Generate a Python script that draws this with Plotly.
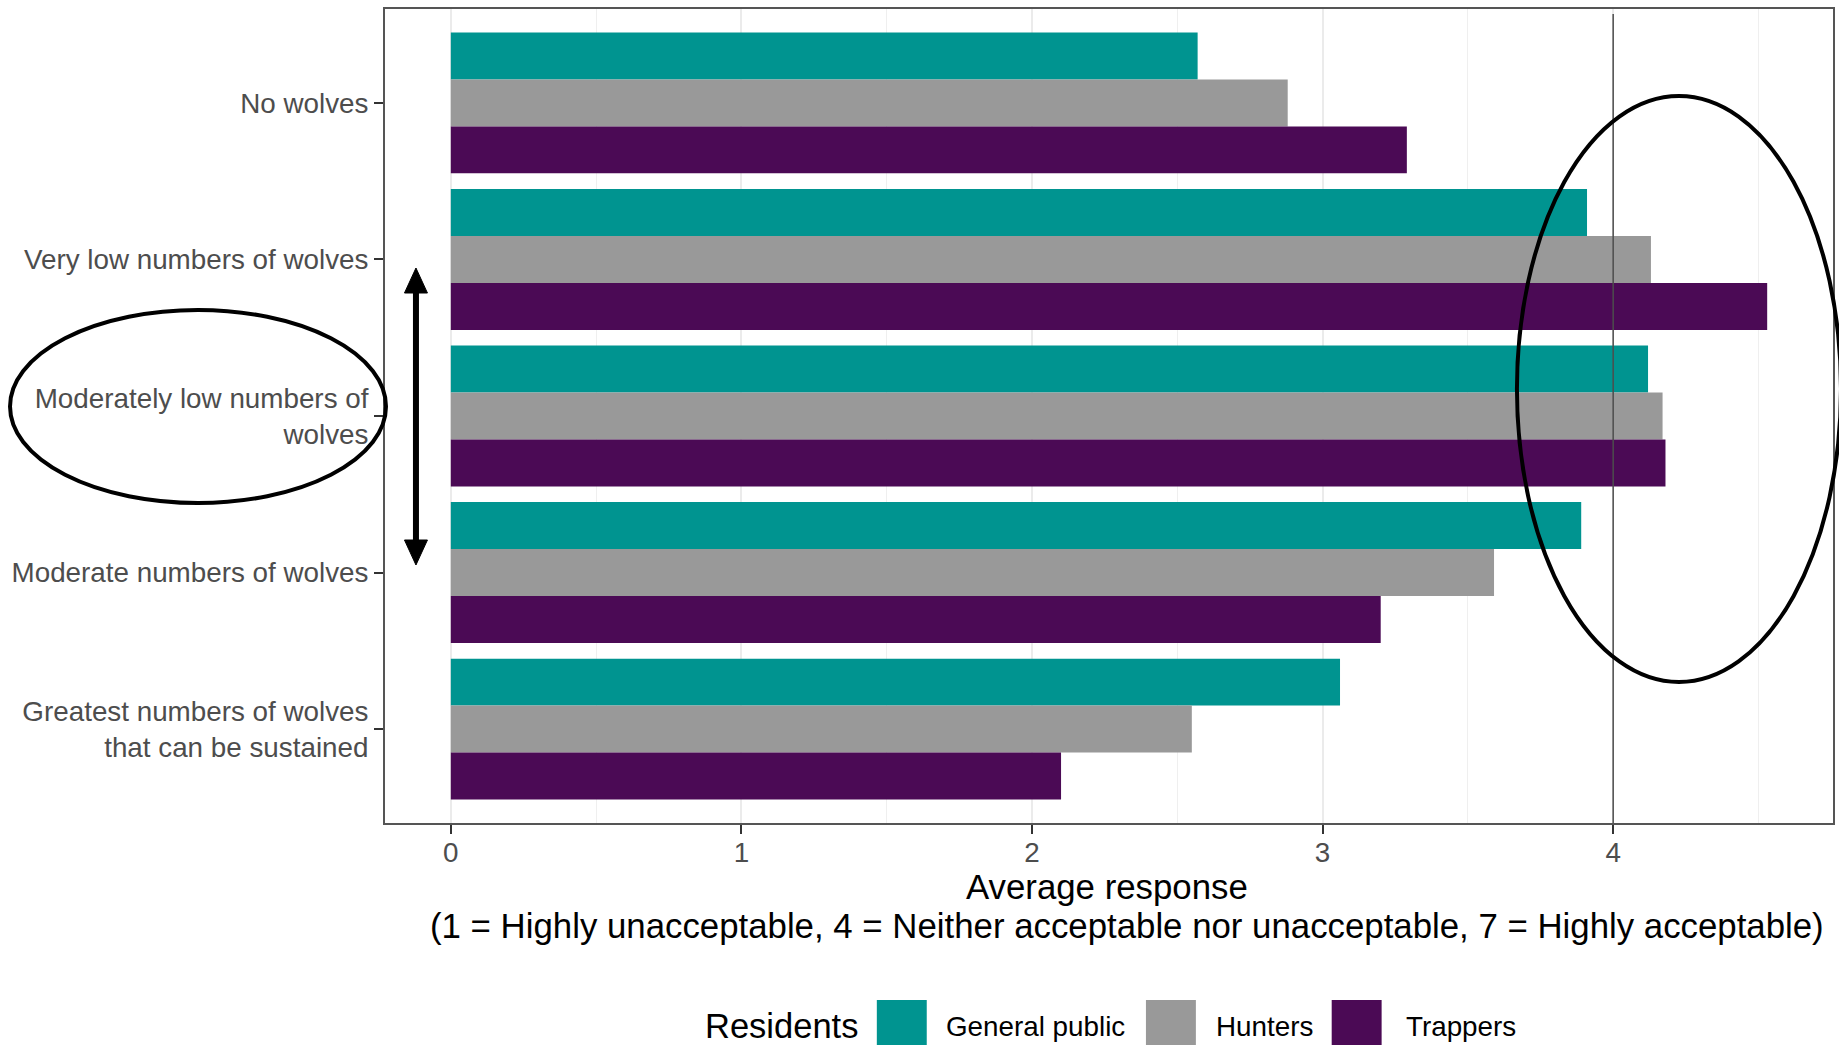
import plotly.graph_objects as go

# ---------------- data ----------------
categories = [
    "No wolves",
    "Very low numbers of wolves",
    "Moderately low numbers of<br>wolves",
    "Moderate numbers of wolves",
    "Greatest numbers of wolves<br>that can be sustained",
]
groups = ["General public", "Hunters", "Trappers"]
general_public = [2.57, 3.91, 4.12, 3.89, 3.06]
hunters = [2.88, 4.13, 4.17, 3.59, 2.55]
trappers = [3.29, 4.53, 4.18, 3.20, 2.10]
x_ticks = [0, 1, 2, 3, 4]
reference_value = 4

colors = ["#009490", "#999999", "#4B0A55"]
FONT = "Liberation Sans, Arial, sans-serif"

# ---------------- layout geometry (pixels) ----------------
W, H = 1839, 1045
PL, PR, PT, PB = 385, 1835, 9, 823


def px(X):
    return (X - PL) / (PR - PL)


def py(Y):
    return (PB - Y) / (PB - PT)


fig = go.Figure()
for name, vals, col in zip(groups, [general_public, hunters, trappers], colors):
    fig.add_trace(go.Bar(
        y=categories, x=vals, name=name, orientation="h",
        marker=dict(color=col, line=dict(width=0)),
        showlegend=False,
    ))

shapes = []
annotations = []

# reference vertical line at x = 4
shapes.append(dict(type="line", xref="x", yref="paper",
                   x0=reference_value, x1=reference_value, y0=0, y1=py(14),
                   line=dict(color="#4D4D4D", width=1.5), layer="above"))

# ellipse around the y label
shapes.append(dict(type="circle", xref="paper", yref="paper",
                   x0=px(9.5), x1=px(386), y0=py(310), y1=py(503),
                   line=dict(color="black", width=4), layer="above"))
# big ellipse on the right
shapes.append(dict(type="circle", xref="paper", yref="paper",
                   x0=px(1518.5), x1=px(1843), y0=py(96), y1=py(682),
                   line=dict(color="black", width=4), layer="above"))

# double-headed arrow
ax_c = 416
shapes.append(dict(type="line", xref="paper", yref="paper",
                   x0=px(ax_c), x1=px(ax_c), y0=py(288), y1=py(546),
                   line=dict(color="black", width=6), layer="above"))
for tip, base in [(268, 293), (565, 540)]:
    path = "M {} {} L {} {} L {} {} Z".format(
        px(ax_c), py(tip), px(ax_c - 11.5), py(base), px(ax_c + 11.5), py(base))
    shapes.append(dict(type="path", xref="paper", yref="paper", path=path,
                       fillcolor="black", line=dict(color="black", width=1),
                       layer="above"))

# x-axis title (two lines)
annotations.append(dict(text="Average response", xref="paper", yref="paper",
                        x=px(1108), y=py(886), xanchor="center", yanchor="middle",
                        showarrow=False, font=dict(family=FONT, size=34.8, color="black")))
annotations.append(dict(text="(1 = Highly unacceptable, 4 = Neither acceptable nor unacceptable, 7 = Highly acceptable)",
                        xref="paper", yref="paper",
                        x=px(1128.5), y=py(925), xanchor="center", yanchor="middle",
                        showarrow=False, font=dict(family=FONT, size=34.8, color="black")))

# manual legend (large keys)
leg_y = 1026
annotations.append(dict(text="Residents", xref="paper", yref="paper",
                        x=px(703), y=py(leg_y), xanchor="left", yanchor="middle",
                        showarrow=False, font=dict(family=FONT, size=34.5, color="black")))
key_x = [877.5, 1147, 1333]
label_x = [945, 1215, 1405]
for name, col, kx, lx in zip(groups, colors, key_x, label_x):
    shapes.append(dict(type="rect", xref="paper", yref="paper",
                       x0=px(kx), x1=px(kx + 50), y0=py(1000), y1=py(1050),
                       fillcolor=col, line=dict(width=0), layer="above"))
    annotations.append(dict(text=name, xref="paper", yref="paper",
                            x=px(lx), y=py(leg_y), xanchor="left", yanchor="middle",
                            showarrow=False, font=dict(family=FONT, size=27.8, color="black")))

fig.update_layout(
    width=W, height=H,
    margin=dict(l=PL, r=W - PR, t=PT, b=H - PB, pad=0),
    paper_bgcolor="white", plot_bgcolor="white",
    barmode="group", bargap=0.1, bargroupgap=0,
    font=dict(family=FONT, size=28, color="#4D4D4D"),
    shapes=shapes, annotations=annotations,
    showlegend=False,
)
fig.update_xaxes(
    range=[-0.2265, 4.7565], tickvals=x_ticks,
    ticks="outside", ticklen=9, tickwidth=1.5, tickcolor="#333333",
    ticklabelstandoff=-5,
    tickfont=dict(family=FONT, size=27.8, color="#4D4D4D"),
    showgrid=True, gridcolor="#EBEBEB", gridwidth=1.5,
    minor=dict(dtick=0.5, showgrid=True, gridcolor="#EFEFEF", gridwidth=1),
    zeroline=False, showline=True, mirror=True, linecolor="#555555", linewidth=2,
)
fig.update_yaxes(
    type="category", categoryorder="array", categoryarray=categories,
    range=[4.6, -0.6],
    ticks="outside", ticklen=9, tickwidth=1.5, tickcolor="#333333",
    tickfont=dict(family=FONT, size=27.8, color="#4D4D4D"),
    showgrid=False, zeroline=False,
    showline=True, mirror=True, linecolor="#555555", linewidth=2,
)

fig.write_html(
    "out.html",
    config={"displayModeBar": False},
    post_script="document.body.style.margin='0';document.body.style.overflow='hidden';",
)
